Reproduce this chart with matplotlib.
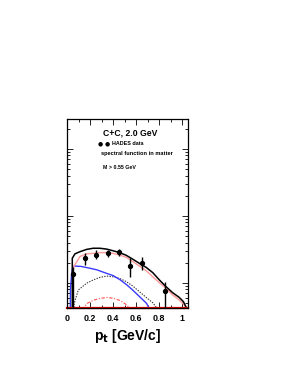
import numpy as np
import matplotlib
matplotlib.use("Agg")
import matplotlib.pyplot as plt
from matplotlib.ticker import MultipleLocator, LogLocator, NullFormatter

plt.rcParams['font.family'] = ['Liberation Sans', 'DejaVu Sans']
plt.rcParams['mathtext.default'] = 'bf'

# HADES data points (pt in GeV/c, yield)
pt_data = [0.055, 0.152, 0.253, 0.353, 0.454, 0.549, 0.649, 0.848]
y_data = [1.36e-5, 2.34e-5, 2.64e-5, 2.77e-5, 2.88e-5, 1.79e-5, 1.96e-5, 7.60e-6]
y_hi = [1.76e-5, 2.77e-5, 3.11e-5, 3.11e-5, 3.17e-5, 2.34e-5, 2.46e-5, 1.02e-5]
y_lo = [1e-7, 1.85e-5, 2.26e-5, 2.48e-5, 2.55e-5, 1.24e-5, 1.56e-5, 1e-7]

# total (black)
pt_tot = [0.046, 0.046, 0.069, 0.112, 0.170, 0.227, 0.284, 0.342, 0.399, 0.457, 0.514,
          0.572, 0.629, 0.687, 0.744, 0.802, 0.859, 0.917, 0.974, 1.01, 1.045]
y_tot = [1e-7, 2.34e-5, 2.72e-5, 2.93e-5, 3.17e-5, 3.30e-5, 3.30e-5, 3.21e-5, 3.03e-5, 2.84e-5,
         2.59e-5, 2.26e-5, 1.96e-5, 1.71e-5, 1.43e-5, 1.11e-5, 8.83e-6, 7.17e-6, 6.10e-6,
         5.28e-6, 4.0e-6]

# spectral function in matter (pink)
pt_sf = [0.05, 0.055, 0.112, 0.170, 0.227, 0.284, 0.342, 0.399, 0.457, 0.514, 0.572, 0.629,
         0.687, 0.744, 0.802, 0.859, 0.917, 0.974, 1.017, 1.04]
y_sf = [1.5e-5, 1.71e-5, 2.48e-5, 2.72e-5, 2.77e-5, 2.84e-5, 2.84e-5, 2.77e-5, 2.61e-5, 2.42e-5,
        2.08e-5, 1.79e-5, 1.53e-5, 1.24e-5, 1.01e-5, 8.32e-6, 6.64e-6, 5.57e-6, 4.70e-6, 4.0e-6]

# blue component
pt_blue = [0.022, 0.03, 0.04, 0.05, 0.06, 0.12, 0.20, 0.26, 0.33, 0.40, 0.46, 0.52, 0.57,
           0.63, 0.69, 0.72]
y_blue = [1e-7, 8.1e-6, 1.36e-5, 1.71e-5, 1.79e-5, 1.77e-5, 1.66e-5, 1.57e-5, 1.42e-5, 1.29e-5,
          1.12e-5, 9.35e-6, 7.85e-6, 6.25e-6, 4.98e-6, 4.0e-6]

# black dotted component
pt_dot = [0.05, 0.06, 0.075, 0.098, 0.170, 0.227, 0.284, 0.342, 0.399, 0.457, 0.514, 0.572,
          0.629, 0.687, 0.744, 0.79]
y_dot = [1e-7, 4.70e-6, 5.86e-6, 7.85e-6, 9.91e-6, 1.11e-5, 1.21e-5, 1.27e-5, 1.24e-5, 1.17e-5,
         1.05e-5, 8.99e-6, 7.41e-6, 6.10e-6, 5.08e-6, 4.0e-6]

# red dash-dot component
pt_red = [0.133, 0.175, 0.233, 0.290, 0.348, 0.405, 0.463, 0.520, 0.55]
y_red = [4.0e-6, 4.98e-6, 5.56e-6, 5.90e-6, 6.10e-6, 5.90e-6, 5.46e-6, 4.70e-6, 4.0e-6]

ymin, ymax = 4.24e-6, 2.8e-3

fig = plt.figure(figsize=(2.91, 3.76), dpi=100)
ax = fig.add_axes([0.2302, 0.1809, 0.4158, 0.5027])
ax.set_yscale('log')

ax.plot(pt_red, y_red, color='#ff5050', lw=0.8, ls=(0, (3, 1.5, 1, 1.5)))
ax.plot(pt_dot, y_dot, color='#333333', lw=0.8, ls=(0, (1.2, 1.2)))
ax.plot(pt_blue, y_blue, color='#3a3aff', lw=1.0)
ax.plot(pt_sf, y_sf, color='#ff9a9a', lw=1.0)
ax.plot(pt_tot, y_tot, color='black', lw=1.1)
ax.axhline(ymin, color='#cc0000', lw=1.6, clip_on=False)

yerr = [np.array(y_data) - np.array(y_lo), np.array(y_hi) - np.array(y_data)]
ax.errorbar(pt_data, y_data, yerr=yerr, fmt='o', color='black', ms=2.8, lw=1.0,
            capsize=0, zorder=5)

ax.set_xlim(0, 1.05)
ax.set_ylim(ymin, ymax)

ax.xaxis.set_major_locator(MultipleLocator(0.2))
ax.xaxis.set_minor_locator(MultipleLocator(0.1))
ax.yaxis.set_major_locator(LogLocator(base=10))
ax.yaxis.set_minor_locator(LogLocator(base=10, subs=np.arange(2, 10)))
ax.yaxis.set_major_formatter(NullFormatter())
ax.yaxis.set_minor_formatter(NullFormatter())
ax.tick_params(which='both', direction='in', top=True, right=True, width=0.6)
ax.tick_params(which='major', length=4)
ax.tick_params(which='minor', length=2)
ax.tick_params(axis='x', labelsize=6.4, pad=4)
ax.set_xticks([0, 0.2, 0.4, 0.6, 0.8, 1.0], ['0', '0.2', '0.4', '0.6', '0.8', '1'])
for lab in ax.get_xticklabels():
    lab.set_fontweight('bold')
for s in ax.spines.values():
    s.set_linewidth(0.9)

ax.set_xlabel('p$_t$ [GeV/c]', fontsize=10, fontweight='bold', labelpad=3)

ax.text(0.295, 0.926, 'C+C, 2.0 GeV', transform=ax.transAxes, fontsize=6.2,
        fontweight='bold', va='center', ha='left')
ax.text(0.255, 0.866, '\u25cf \u25cf', transform=ax.transAxes, fontsize=4.2,
        va='center', ha='left', family=['DejaVu Sans'])
ax.text(0.37, 0.868, 'HADES data', transform=ax.transAxes, fontsize=3.9,
        fontweight='bold', va='center', ha='left')
ax.text(0.281, 0.818, 'spectral function in matter', transform=ax.transAxes, fontsize=4.1,
        fontweight='bold', va='center', ha='left')
ax.text(0.300, 0.744, 'M > 0.55 GeV', transform=ax.transAxes, fontsize=3.8,
        fontweight='bold', va='center', ha='left')

fig.savefig('out.png', dpi=100)
